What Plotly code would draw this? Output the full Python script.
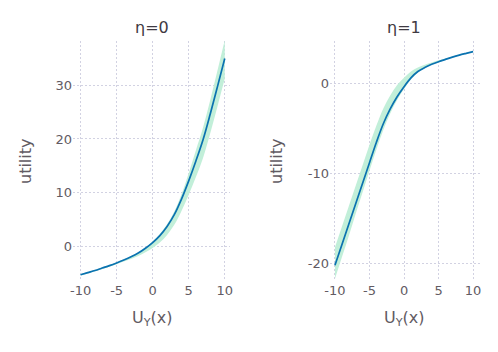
import plotly.graph_objects as go

# utility curves (posterior mean line + band)
u_x = [-10, -9, -8, -7, -6, -5, -4, -3, -2, -1, 0, 1, 2, 3, 4, 5, 6, 7, 8, 9, 10]

eta0_mid = [-5.3, -4.9, -4.5, -4.05, -3.6, -3.1, -2.55, -1.95, -1.25, -0.35, 0.7,
            2.0, 3.7, 5.9, 8.8, 12.2, 15.9, 19.9, 24.7, 29.8, 35.0]
eta0_lo = [-5.45, -5.05, -4.65, -4.22, -3.8, -3.35, -2.85, -2.35, -1.8, -1.1, -0.3,
           0.7, 2.1, 4.0, 6.6, 9.6, 12.9, 16.5, 21.1, 26.1, 31.2]
eta0_hi = [-5.2, -4.8, -4.4, -3.95, -3.5, -3.0, -2.45, -1.85, -1.15, -0.25, 0.9,
           2.3, 4.1, 6.5, 9.7, 13.6, 17.9, 22.2, 27.3, 32.8, 38.4]

eta1_mid = [-20.15, -17.87, -15.6, -13.33, -11.05, -8.77, -6.5, -4.45, -2.8, -1.45, -0.33,
            0.65, 1.35, 1.8, 2.15, 2.44, 2.7, 2.95, 3.17, 3.37, 3.56]
eta1_lo = [-21.65, -19.27, -16.9, -14.43, -12.05, -9.67, -7.3, -5.15, -3.3, -1.8, -0.58,
           0.5, 1.25, 1.75, 2.1, 2.39, 2.65, 2.9, 3.12, 3.32, 3.53]
eta1_hi = [-18.15, -15.87, -13.6, -11.33, -9.05, -6.77, -4.65, -2.75, -1.3, -0.15, 0.67,
           1.35, 1.8, 2.1, 2.35, 2.59, 2.8, 3.03, 3.23, 3.42, 3.59]

titles = ['η=0', 'η=1']
x_ticks = [-10, -5, 0, 5, 10]
x_labels = ['-10', '-5', '0', '5', '10']
y_ticks_left = [0, 10, 20, 30]
y_labels_left = ['0', '10', '20', '30']
y_ticks_right = [-20, -10, 0]
y_labels_right = ['-20', '-10', '0']

LINE = '#0a72b0'
BAND = '#c2efd9'
GRID = '#d2d2e2'
TXT = '#625b63'
FONT = 'DejaVu Sans'

W, H = 498, 352
OFF = 8  # page body margin shifts the figure by 8px


def fx(p):
    return (p - OFF) / W


def fy(p):
    return 1 - (p - OFF) / H


fig = go.Figure()

for xa, ya, lo, hi, mid in [('x', 'y', eta0_lo, eta0_hi, eta0_mid),
                            ('x2', 'y2', eta1_lo, eta1_hi, eta1_mid)]:
    fig.add_trace(go.Scatter(x=u_x, y=lo, mode='lines', line=dict(width=0, shape='spline'),
                             xaxis=xa, yaxis=ya, showlegend=False, hoverinfo='skip'))
    fig.add_trace(go.Scatter(x=u_x, y=hi, mode='lines', line=dict(width=0, shape='spline'),
                             fill='tonexty', fillcolor=BAND,
                             xaxis=xa, yaxis=ya, showlegend=False, hoverinfo='skip'))
    fig.add_trace(go.Scatter(x=u_x, y=mid, mode='lines',
                             line=dict(color=LINE, width=1.7, shape='spline'),
                             xaxis=xa, yaxis=ya, showlegend=False))

axis_common = dict(showgrid=True, gridcolor=GRID, gridwidth=1, griddash='2px,2px',
                   zeroline=False, showline=False, ticks='', automargin=False,
                   tickfont=dict(family=FONT, size=13, color=TXT))

ydom = [fy(281), fy(41)]
fig.update_layout(
    width=W, height=H, autosize=False,
    margin=dict(l=0, r=0, t=0, b=0, pad=0, autoexpand=False),
    paper_bgcolor='white', plot_bgcolor='white',
    font=dict(family=FONT, color=TXT),
    xaxis=dict(domain=[fx(73), fx(230)], range=[-11.05, 10.73], tickvals=x_ticks,
               ticktext=x_labels, **axis_common),
    yaxis=dict(domain=ydom, range=[-6.46, 38.25], tickvals=y_ticks_left,
               ticktext=y_labels_left, **axis_common),
    xaxis2=dict(domain=[fx(330), fx(480)], range=[-10.72, 11.0], tickvals=x_ticks,
                ticktext=x_labels, anchor='y2', **axis_common),
    yaxis2=dict(domain=ydom, range=[-21.9, 4.74], tickvals=y_ticks_right,
                ticktext=y_labels_right, anchor='x2', **axis_common),
)

ann = dict(xref='paper', yref='paper', showarrow=False, xanchor='center', yanchor='middle')

# panel titles and axis labels
for cx, t in [(152, titles[0]), (404, titles[1])]:
    fig.add_annotation(text=t, x=fx(cx), y=fy(28),
                       font=dict(family=FONT, size=16, color='#3f3a42'), **ann)
for cx in (152, 404):
    fig.add_annotation(text='U<sub>Y</sub>(x)', x=fx(cx), y=fy(318),
                       font=dict(family=FONT, size=16, color=TXT), **ann)
for cx in (26, 277):
    fig.add_annotation(text='utility', x=fx(cx), y=fy(161), textangle=-90,
                       font=dict(family=FONT, size=16, color=TXT), **ann)

fig.write_html('out.html')
